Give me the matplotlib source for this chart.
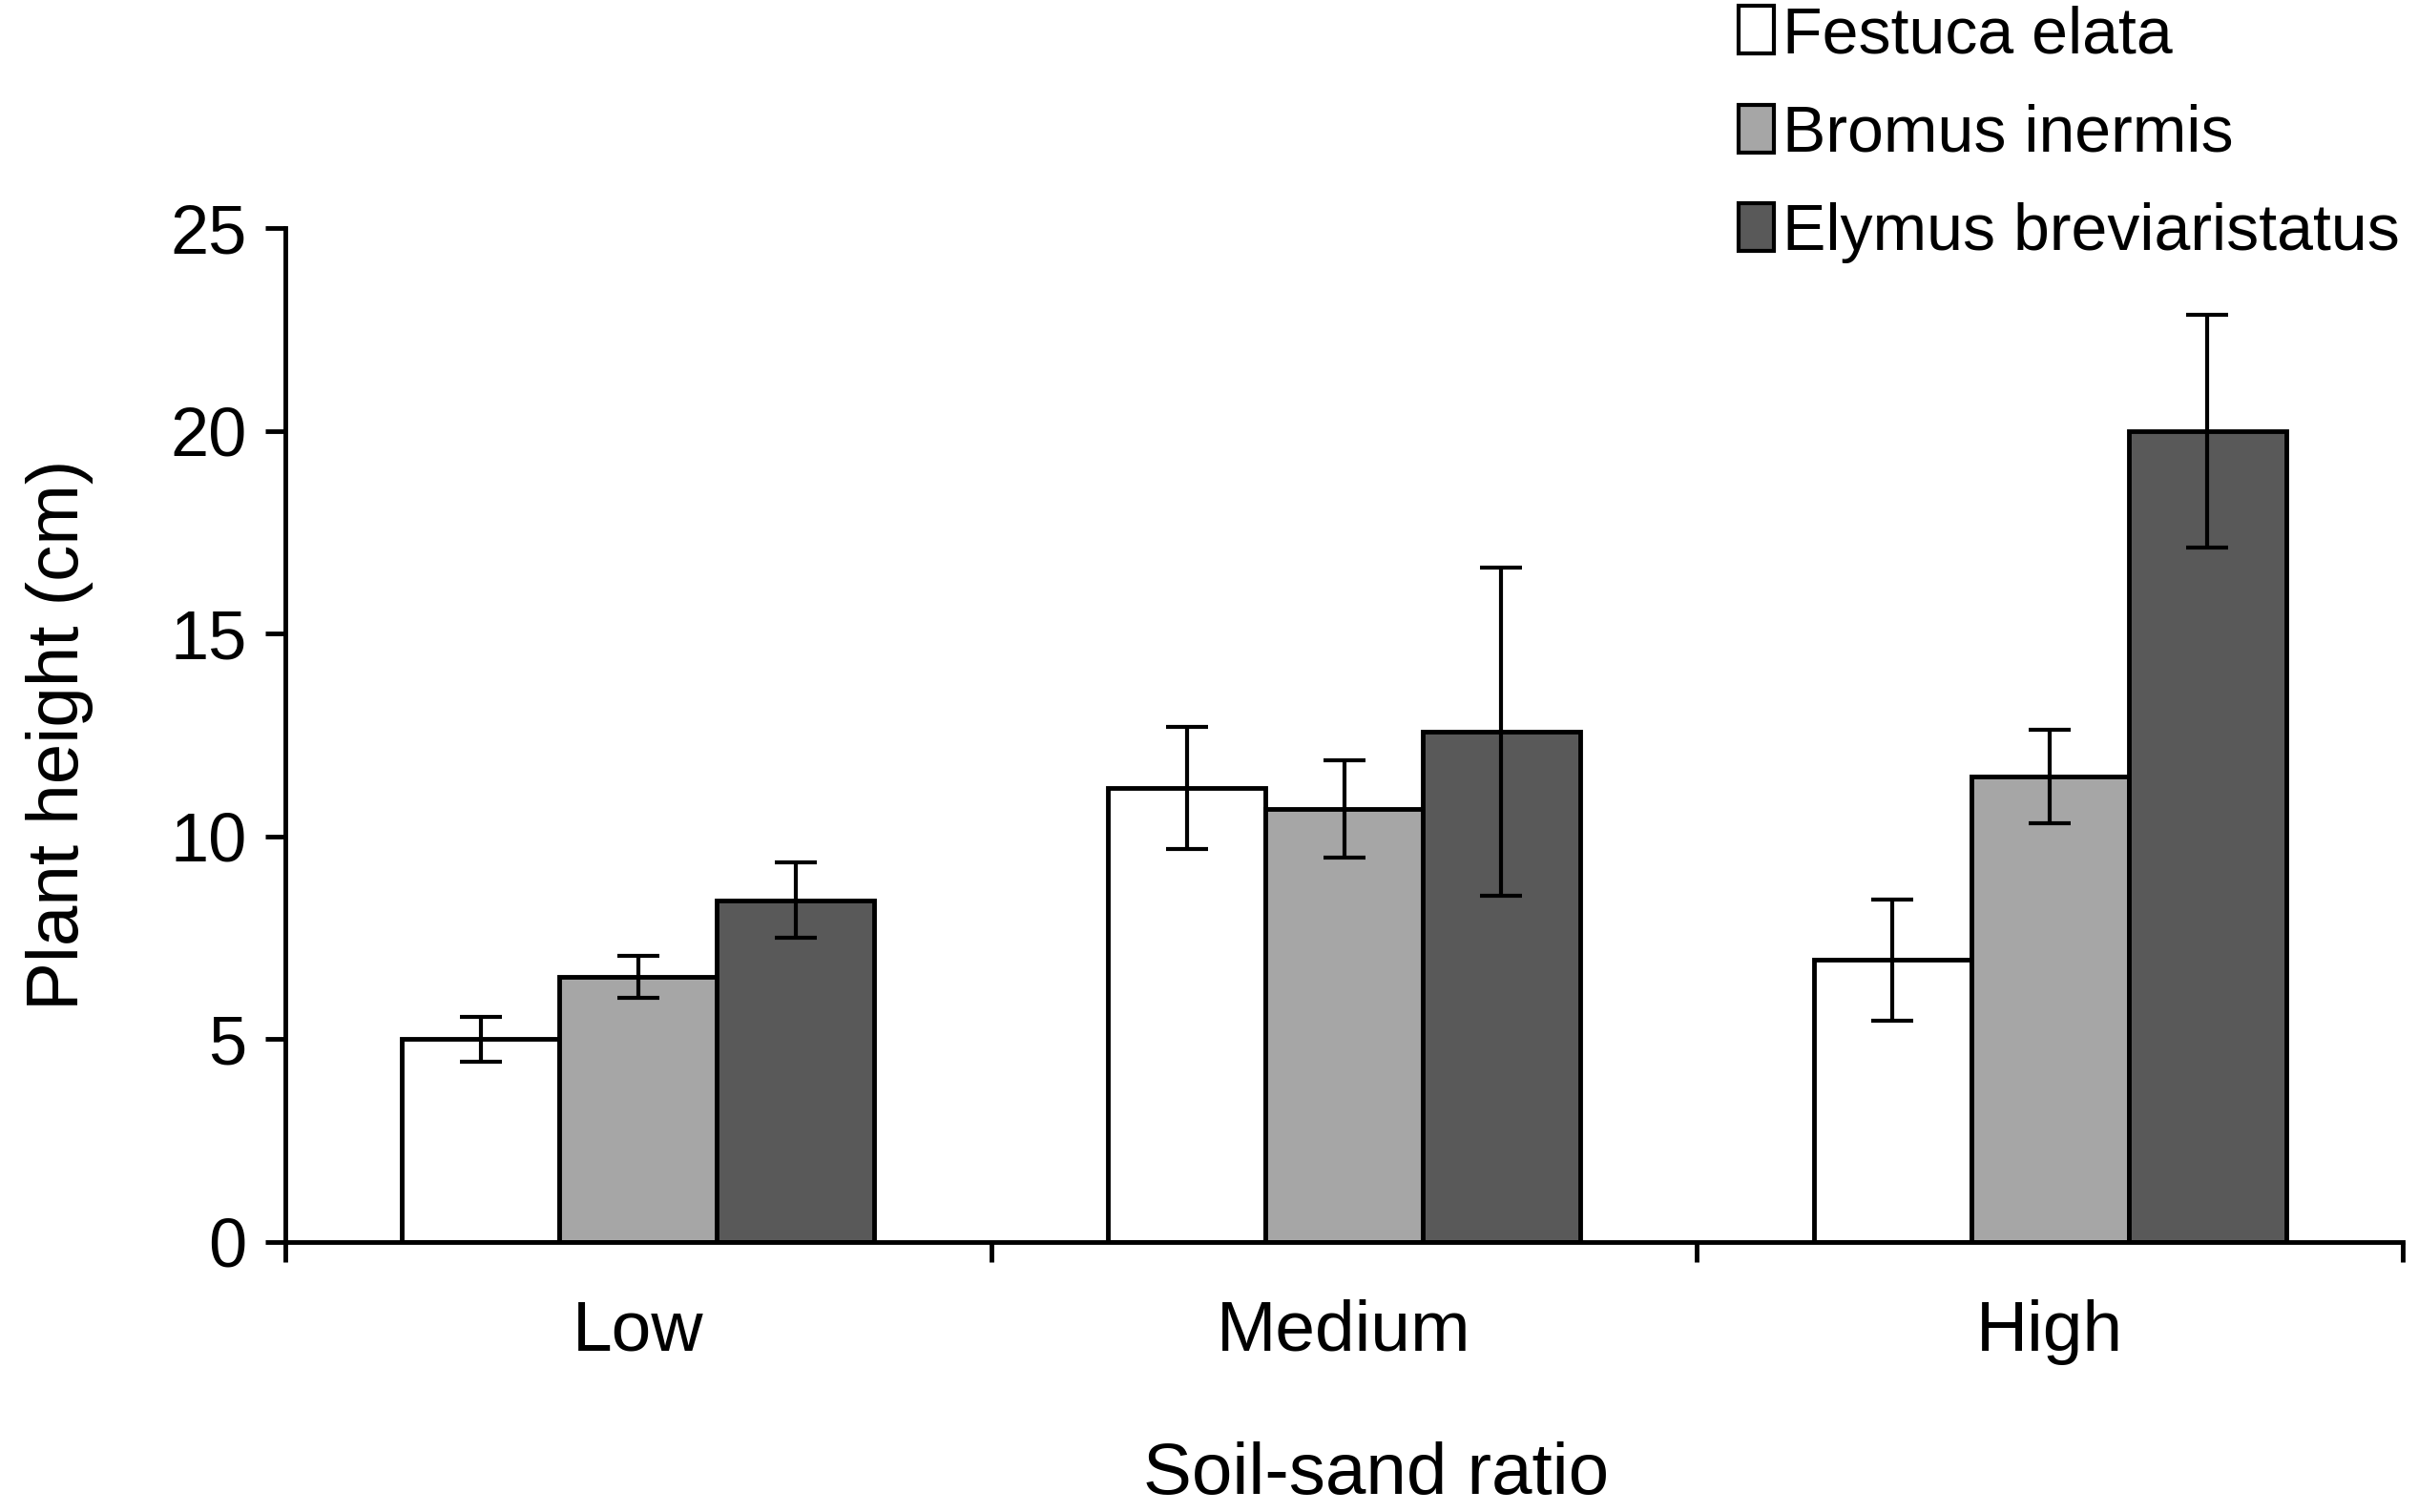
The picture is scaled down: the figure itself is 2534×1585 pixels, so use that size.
import matplotlib.pyplot as plt
import numpy as np

categories = ['Low', 'Medium', 'High']
species = ['Festuca elata', 'Bromus inermis', 'Elymus breviaristatus']
festuca = [5.0, 11.2, 6.95]
festuca_err = [0.55, 1.5, 1.5]
bromus = [6.53, 10.68, 11.47]
bromus_err = [0.52, 1.2, 1.15]
elymus = [8.43, 12.58, 19.98]
elymus_err = [0.93, 4.05, 2.87]

plt.rcParams['font.family'] = ['Liberation Sans', 'DejaVu Sans']

fig = plt.figure(figsize=(25.34, 15.85), dpi=100)
ax = fig.add_axes([299 / 2534, 1 - 1302 / 1585, (2518 - 299) / 2534, (1302 - 239) / 1585])

x = np.arange(len(categories))
w = 0.223
cols = ['white', '#a6a6a6', '#595959']
vals = [festuca, bromus, elymus]
errs = [festuca_err, bromus_err, elymus_err]
for i in range(3):
    ax.bar(x + (i - 1) * w, vals[i], w, yerr=errs[i], color=cols[i], edgecolor='black',
           linewidth=3.5, label=species[i],
           error_kw=dict(ecolor='black', elinewidth=3, capsize=16, capthick=3), zorder=2)

ax.set_xlim(-0.5, 2.5)
ax.set_ylim(0, 25)
ax.set_yticks([0, 5, 10, 15, 20, 25])
ax.set_xticks([-0.5, 0.5, 1.5, 2.5])
ax.set_xticklabels([])
for i, c in enumerate(categories):
    ax.text(i, -2.22, c, ha='center', va='center', fontsize=54)

ax.spines['top'].set_visible(False)
ax.spines['right'].set_visible(False)
ax.spines['left'].set_linewidth(3.5)
ax.spines['bottom'].set_linewidth(3.5)
ax.tick_params(axis='y', direction='out', length=15, width=3.5, labelsize=52, pad=14)
ax.tick_params(axis='x', direction='out', length=15, width=3.5)

ax.set_ylabel('Plant height (cm)', fontsize=55, labelpad=58)
ax.set_xlabel('Soil-sand ratio', fontsize=55, labelpad=132)
ax.xaxis.label.set_x(0.515)

leg = ax.legend(loc='upper left', bbox_to_anchor=(1788 / 2534, 1 + 29 / 1585), bbox_transform=fig.transFigure,
                frameon=False, fontsize=49, handlelength=0.55, handleheight=0.75, handletextpad=0.12,
                labelspacing=0.58, borderpad=0)
for h in leg.legend_handles:
    h.set_linewidth(3)

fig.savefig('out.png', dpi=100)
